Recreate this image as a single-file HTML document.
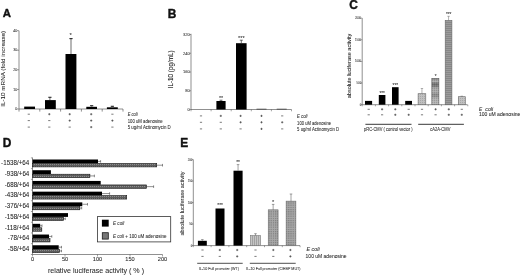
<!DOCTYPE html>
<html><head><meta charset="utf-8"><style>
html,body{margin:0;padding:0;background:#fff;width:520px;height:275px;overflow:hidden}
svg{display:block;filter:grayscale(1)}
text{font-family:"Liberation Sans", sans-serif}
</style></head><body>
<svg width="520" height="275" viewBox="0 0 520 275">
<defs>
<pattern id="pg1" width="2" height="2" patternUnits="userSpaceOnUse"><rect width="2" height="2" fill="#c0c0c0"/><rect width="1" height="1" fill="#a8a8a8"/></pattern>
<pattern id="tex" width="2" height="2" patternUnits="userSpaceOnUse"><rect width="1" height="1" fill="#000" fill-opacity="0.12"/><rect x="1" y="1" width="1" height="1" fill="#fff" fill-opacity="0.12"/></pattern>
<linearGradient id="gb6" x1="0" y1="0" x2="0" y2="1"><stop offset="0" stop-color="#555"/><stop offset="0.05" stop-color="#999"/><stop offset="0.1" stop-color="#b2b2b2"/><stop offset="0.16" stop-color="#8a8a8a"/><stop offset="0.2" stop-color="#707070"/><stop offset="0.29" stop-color="#7a7a7a"/><stop offset="0.36" stop-color="#a6a6a6"/><stop offset="0.52" stop-color="#aaa"/><stop offset="0.6" stop-color="#8e8e8e"/><stop offset="0.68" stop-color="#929292"/><stop offset="0.76" stop-color="#b0b0b0"/><stop offset="1" stop-color="#b4b4b4"/></linearGradient>
<pattern id="pg2" width="2" height="2" patternUnits="userSpaceOnUse"><rect width="2" height="2" fill="#aaa"/><rect width="1" height="1" fill="#888"/></pattern>
<pattern id="pg3" width="2" height="2" patternUnits="userSpaceOnUse"><rect width="2" height="2" fill="#9c9c9c"/><rect width="2" height="0.8" fill="#828282"/></pattern>
<pattern id="pgD" width="2" height="2" patternUnits="userSpaceOnUse"><rect width="2" height="2" fill="#5e5e5e"/><rect width="1" height="1" fill="#8e8e8e"/></pattern>
<pattern id="pgE1" width="2" height="2" patternUnits="userSpaceOnUse"><rect width="2" height="2" fill="#c4c4c4"/><rect width="0.8" height="2" fill="#999"/></pattern>
<pattern id="pgE2" width="2.2" height="2.2" patternUnits="userSpaceOnUse"><rect width="2.2" height="2.2" fill="#a8a8a8"/><rect width="1.2" height="1.2" fill="#7e7e7e"/></pattern>
</defs>
<rect width="520" height="275" fill="#fff"/>
<text x="2.8" y="17.2" font-size="11.4" text-anchor="start" font-weight="bold" font-style="normal" fill="#111" stroke="#111" stroke-width="0.4" stroke-linejoin="round">A</text>
<text x="167.8" y="17.6" font-size="11.9" text-anchor="start" font-weight="bold" font-style="normal" fill="#111" stroke="#111" stroke-width="0.4" stroke-linejoin="round">B</text>
<text x="349.2" y="8.8" font-size="11.9" text-anchor="start" font-weight="bold" font-style="normal" fill="#111" stroke="#111" stroke-width="0.4" stroke-linejoin="round">C</text>
<text x="2.7" y="147.3" font-size="11.9" text-anchor="start" font-weight="bold" font-style="normal" fill="#111" stroke="#111" stroke-width="0.4" stroke-linejoin="round">D</text>
<text x="180.3" y="147.3" font-size="11.9" text-anchor="start" font-weight="bold" font-style="normal" fill="#111" stroke="#111" stroke-width="0.4" stroke-linejoin="round">E</text>
<line x1="19" y1="30.7" x2="19" y2="109" stroke="#444" stroke-width="0.6"/>
<line x1="17" y1="109.0" x2="19" y2="109.0" stroke="#444" stroke-width="0.5"/>
<text x="17.3" y="110.2" font-size="3.6" text-anchor="end" font-weight="normal" font-style="normal" fill="#333" stroke="#333" stroke-width="0.06" stroke-linejoin="round">0</text>
<line x1="17" y1="89.42" x2="19" y2="89.42" stroke="#444" stroke-width="0.5"/>
<text x="17.3" y="90.62" font-size="3.6" text-anchor="end" font-weight="normal" font-style="normal" fill="#333" stroke="#333" stroke-width="0.06" stroke-linejoin="round">10</text>
<line x1="17" y1="69.84" x2="19" y2="69.84" stroke="#444" stroke-width="0.5"/>
<text x="17.3" y="71.04" font-size="3.6" text-anchor="end" font-weight="normal" font-style="normal" fill="#333" stroke="#333" stroke-width="0.06" stroke-linejoin="round">20</text>
<line x1="17" y1="50.260000000000005" x2="19" y2="50.260000000000005" stroke="#444" stroke-width="0.5"/>
<text x="17.3" y="51.46000000000001" font-size="3.6" text-anchor="end" font-weight="normal" font-style="normal" fill="#333" stroke="#333" stroke-width="0.06" stroke-linejoin="round">30</text>
<line x1="17" y1="30.680000000000007" x2="19" y2="30.680000000000007" stroke="#444" stroke-width="0.5"/>
<text x="17.3" y="31.880000000000006" font-size="3.6" text-anchor="end" font-weight="normal" font-style="normal" fill="#333" stroke="#333" stroke-width="0.06" stroke-linejoin="round">40</text>
<line x1="19" y1="109" x2="123" y2="109" stroke="#444" stroke-width="0.6"/>
<line x1="19.0" y1="109" x2="19.0" y2="111.6" stroke="#444" stroke-width="0.6"/>
<line x1="39.8" y1="109" x2="39.8" y2="111.6" stroke="#444" stroke-width="0.6"/>
<line x1="60.6" y1="109" x2="60.6" y2="111.6" stroke="#444" stroke-width="0.6"/>
<line x1="81.4" y1="109" x2="81.4" y2="111.6" stroke="#444" stroke-width="0.6"/>
<line x1="102.2" y1="109" x2="102.2" y2="111.6" stroke="#444" stroke-width="0.6"/>
<line x1="123.0" y1="109" x2="123.0" y2="111.6" stroke="#444" stroke-width="0.6"/>
<rect x="24.2" y="106.6" width="10.8" height="2.4000000000000057" fill="#000" stroke="none" stroke-width="0.5"/>
<rect x="45.0" y="100.1" width="10.799999999999997" height="8.900000000000006" fill="#000" stroke="none" stroke-width="0.5"/>
<line x1="49.9" y1="100.1" x2="49.9" y2="97.3" stroke="#7a7a7a" stroke-width="1.1"/>
<line x1="48.3" y1="97.3" x2="51.5" y2="97.3" stroke="#2a2a2a" stroke-width="1.1"/>
<rect x="65.5" y="54" width="10.900000000000006" height="55" fill="#000" stroke="none" stroke-width="0.5"/>
<line x1="71.0" y1="54" x2="71.0" y2="38.6" stroke="#7a7a7a" stroke-width="1.1"/>
<line x1="69.4" y1="38.6" x2="72.6" y2="38.6" stroke="#2a2a2a" stroke-width="1.1"/>
<rect x="86.3" y="106.8" width="10.700000000000003" height="2.200000000000003" fill="#000" stroke="none" stroke-width="0.5"/>
<line x1="91.65" y1="106.8" x2="91.65" y2="105.7" stroke="#7a7a7a" stroke-width="1.1"/>
<line x1="90.05000000000001" y1="105.7" x2="93.25" y2="105.7" stroke="#2a2a2a" stroke-width="1.1"/>
<rect x="106.9" y="107.3" width="10.899999999999991" height="1.7000000000000028" fill="#000" stroke="none" stroke-width="0.5"/>
<line x1="112.35" y1="107.3" x2="112.35" y2="106.3" stroke="#7a7a7a" stroke-width="1.1"/>
<line x1="110.75" y1="106.3" x2="113.94999999999999" y2="106.3" stroke="#2a2a2a" stroke-width="1.1"/>
<text x="70.7" y="37.2" font-size="6" text-anchor="middle" font-weight="normal" font-style="normal" fill="#2a2a2a" stroke="#2a2a2a" stroke-width="0.06" stroke-linejoin="round">*</text>
<line x1="27.7" y1="114.2" x2="29.900000000000002" y2="114.2" stroke="#333" stroke-width="0.65"/>
<line x1="48.199999999999996" y1="114.2" x2="50.4" y2="114.2" stroke="#333" stroke-width="0.65"/>
<line x1="49.3" y1="113.10000000000001" x2="49.3" y2="115.3" stroke="#333" stroke-width="0.65"/>
<line x1="68.60000000000001" y1="114.2" x2="70.8" y2="114.2" stroke="#333" stroke-width="0.65"/>
<line x1="69.7" y1="113.10000000000001" x2="69.7" y2="115.3" stroke="#333" stroke-width="0.65"/>
<line x1="90.10000000000001" y1="114.2" x2="92.3" y2="114.2" stroke="#333" stroke-width="0.65"/>
<line x1="91.2" y1="113.10000000000001" x2="91.2" y2="115.3" stroke="#333" stroke-width="0.65"/>
<line x1="111.30000000000001" y1="114.2" x2="113.5" y2="114.2" stroke="#333" stroke-width="0.65"/>
<line x1="27.7" y1="120.6" x2="29.900000000000002" y2="120.6" stroke="#333" stroke-width="0.65"/>
<line x1="48.199999999999996" y1="120.6" x2="50.4" y2="120.6" stroke="#333" stroke-width="0.65"/>
<line x1="68.60000000000001" y1="120.6" x2="70.8" y2="120.6" stroke="#333" stroke-width="0.65"/>
<line x1="69.7" y1="119.5" x2="69.7" y2="121.69999999999999" stroke="#333" stroke-width="0.65"/>
<line x1="90.10000000000001" y1="120.6" x2="92.3" y2="120.6" stroke="#333" stroke-width="0.65"/>
<line x1="91.2" y1="119.5" x2="91.2" y2="121.69999999999999" stroke="#333" stroke-width="0.65"/>
<line x1="111.30000000000001" y1="120.6" x2="113.5" y2="120.6" stroke="#333" stroke-width="0.65"/>
<line x1="112.4" y1="119.5" x2="112.4" y2="121.69999999999999" stroke="#333" stroke-width="0.65"/>
<line x1="27.7" y1="127.1" x2="29.900000000000002" y2="127.1" stroke="#333" stroke-width="0.65"/>
<line x1="48.199999999999996" y1="127.1" x2="50.4" y2="127.1" stroke="#333" stroke-width="0.65"/>
<line x1="68.60000000000001" y1="127.1" x2="70.8" y2="127.1" stroke="#333" stroke-width="0.65"/>
<line x1="90.10000000000001" y1="127.1" x2="92.3" y2="127.1" stroke="#333" stroke-width="0.65"/>
<line x1="91.2" y1="126.0" x2="91.2" y2="128.2" stroke="#333" stroke-width="0.65"/>
<line x1="111.30000000000001" y1="127.1" x2="113.5" y2="127.1" stroke="#333" stroke-width="0.65"/>
<text x="127.7" y="116.3" font-size="4.6" text-anchor="start" font-weight="normal" font-style="normal" fill="#2a2a2a" stroke="#2a2a2a" stroke-width="0.06" stroke-linejoin="round" textLength="10" lengthAdjust="spacingAndGlyphs"><tspan font-style="italic">E coli</tspan></text>
<text x="127.7" y="122.9" font-size="4.6" text-anchor="start" font-weight="normal" font-style="normal" fill="#2a2a2a" stroke="#2a2a2a" stroke-width="0.06" stroke-linejoin="round" textLength="35" lengthAdjust="spacingAndGlyphs">100 uM adenosine</text>
<text x="127.7" y="129.2" font-size="4.6" text-anchor="start" font-weight="normal" font-style="normal" fill="#2a2a2a" stroke="#2a2a2a" stroke-width="0.06" stroke-linejoin="round" textLength="43" lengthAdjust="spacingAndGlyphs">5 ug/ml Actinomycin D</text>
<text x="4.8" y="68.8" font-size="5.9" text-anchor="middle" font-weight="normal" font-style="normal" fill="#222" stroke="#222" stroke-width="0.06" stroke-linejoin="round" transform="rotate(-90 4.8 68.8)" textLength="76" lengthAdjust="spacingAndGlyphs">IL-10 mRNA (fold increase)</text>
<line x1="191" y1="33.8" x2="191" y2="109.5" stroke="#444" stroke-width="0.6"/>
<line x1="189.4" y1="109.5" x2="191" y2="109.5" stroke="#444" stroke-width="0.5"/>
<text x="189.8" y="110.9" font-size="4.0" text-anchor="end" font-weight="normal" font-style="normal" fill="#333" stroke="#333" stroke-width="0.06" stroke-linejoin="round">0</text>
<line x1="189.4" y1="90.75" x2="191" y2="90.75" stroke="#444" stroke-width="0.5"/>
<text x="189.8" y="92.15" font-size="4.0" text-anchor="end" font-weight="normal" font-style="normal" fill="#333" stroke="#333" stroke-width="0.06" stroke-linejoin="round">80</text>
<line x1="189.4" y1="72.0" x2="191" y2="72.0" stroke="#444" stroke-width="0.5"/>
<text x="189.8" y="73.4" font-size="4.0" text-anchor="end" font-weight="normal" font-style="normal" fill="#333" stroke="#333" stroke-width="0.06" stroke-linejoin="round">160</text>
<line x1="189.4" y1="53.25" x2="191" y2="53.25" stroke="#444" stroke-width="0.5"/>
<text x="189.8" y="54.65" font-size="4.0" text-anchor="end" font-weight="normal" font-style="normal" fill="#333" stroke="#333" stroke-width="0.06" stroke-linejoin="round">240</text>
<line x1="189.4" y1="34.5" x2="191" y2="34.5" stroke="#444" stroke-width="0.5"/>
<text x="189.8" y="35.9" font-size="4.0" text-anchor="end" font-weight="normal" font-style="normal" fill="#333" stroke="#333" stroke-width="0.06" stroke-linejoin="round">320</text>
<line x1="191" y1="109.5" x2="291.5" y2="109.5" stroke="#444" stroke-width="0.6"/>
<line x1="191.0" y1="109.5" x2="191.0" y2="111.3" stroke="#444" stroke-width="0.5"/>
<line x1="211.1" y1="109.5" x2="211.1" y2="111.3" stroke="#444" stroke-width="0.5"/>
<line x1="231.2" y1="109.5" x2="231.2" y2="111.3" stroke="#444" stroke-width="0.5"/>
<line x1="251.3" y1="109.5" x2="251.3" y2="111.3" stroke="#444" stroke-width="0.5"/>
<line x1="271.4" y1="109.5" x2="271.4" y2="111.3" stroke="#444" stroke-width="0.5"/>
<line x1="291.5" y1="109.5" x2="291.5" y2="111.3" stroke="#444" stroke-width="0.5"/>
<rect x="216.4" y="101" width="9.2" height="8.5" fill="#000" stroke="none" stroke-width="0.5"/>
<line x1="221" y1="101" x2="221" y2="100.2" stroke="#333" stroke-width="0.7"/>
<line x1="219.5" y1="100.2" x2="222.5" y2="100.2" stroke="#333" stroke-width="0.7"/>
<text x="221" y="100.2" font-size="5.4" text-anchor="middle" font-weight="normal" font-style="normal" fill="#2a2a2a" stroke="#2a2a2a" stroke-width="0.06" stroke-linejoin="round">**</text>
<rect x="236" y="43.2" width="10.6" height="66.3" fill="#000" stroke="none" stroke-width="0.5"/>
<line x1="241.3" y1="43.3" x2="241.3" y2="40.2" stroke="#333" stroke-width="0.7"/>
<line x1="239.8" y1="40.2" x2="242.8" y2="40.2" stroke="#333" stroke-width="0.7"/>
<text x="241.3" y="39.9" font-size="5.4" text-anchor="middle" font-weight="normal" font-style="normal" fill="#2a2a2a" stroke="#2a2a2a" stroke-width="0.06" stroke-linejoin="round" textLength="6.6" lengthAdjust="spacingAndGlyphs">***</text>
<rect x="256.5" y="108.8" width="10" height="0.5" fill="#000" stroke="none" stroke-width="0.5"/>
<rect x="276.7" y="108.8" width="10" height="0.5" fill="#000" stroke="none" stroke-width="0.5"/>
<line x1="199.9" y1="115.9" x2="202.1" y2="115.9" stroke="#333" stroke-width="0.65"/>
<line x1="219.70000000000002" y1="115.9" x2="221.9" y2="115.9" stroke="#333" stroke-width="0.65"/>
<line x1="220.8" y1="114.80000000000001" x2="220.8" y2="117.0" stroke="#333" stroke-width="0.65"/>
<line x1="239.5" y1="115.9" x2="241.7" y2="115.9" stroke="#333" stroke-width="0.65"/>
<line x1="240.6" y1="114.80000000000001" x2="240.6" y2="117.0" stroke="#333" stroke-width="0.65"/>
<line x1="260.4" y1="115.9" x2="262.6" y2="115.9" stroke="#333" stroke-width="0.65"/>
<line x1="261.5" y1="114.80000000000001" x2="261.5" y2="117.0" stroke="#333" stroke-width="0.65"/>
<line x1="281.09999999999997" y1="115.9" x2="283.3" y2="115.9" stroke="#333" stroke-width="0.65"/>
<line x1="199.9" y1="122.3" x2="202.1" y2="122.3" stroke="#333" stroke-width="0.65"/>
<line x1="219.70000000000002" y1="122.3" x2="221.9" y2="122.3" stroke="#333" stroke-width="0.65"/>
<line x1="239.5" y1="122.3" x2="241.7" y2="122.3" stroke="#333" stroke-width="0.65"/>
<line x1="240.6" y1="121.2" x2="240.6" y2="123.39999999999999" stroke="#333" stroke-width="0.65"/>
<line x1="260.4" y1="122.3" x2="262.6" y2="122.3" stroke="#333" stroke-width="0.65"/>
<line x1="261.5" y1="121.2" x2="261.5" y2="123.39999999999999" stroke="#333" stroke-width="0.65"/>
<line x1="281.09999999999997" y1="122.3" x2="283.3" y2="122.3" stroke="#333" stroke-width="0.65"/>
<line x1="282.2" y1="121.2" x2="282.2" y2="123.39999999999999" stroke="#333" stroke-width="0.65"/>
<line x1="199.9" y1="128.9" x2="202.1" y2="128.9" stroke="#333" stroke-width="0.65"/>
<line x1="219.70000000000002" y1="128.9" x2="221.9" y2="128.9" stroke="#333" stroke-width="0.65"/>
<line x1="239.5" y1="128.9" x2="241.7" y2="128.9" stroke="#333" stroke-width="0.65"/>
<line x1="260.4" y1="128.9" x2="262.6" y2="128.9" stroke="#333" stroke-width="0.65"/>
<line x1="261.5" y1="127.80000000000001" x2="261.5" y2="130.0" stroke="#333" stroke-width="0.65"/>
<line x1="281.09999999999997" y1="128.9" x2="283.3" y2="128.9" stroke="#333" stroke-width="0.65"/>
<text x="297.1" y="117.8" font-size="4.6" text-anchor="start" font-weight="normal" font-style="normal" fill="#2a2a2a" stroke="#2a2a2a" stroke-width="0.06" stroke-linejoin="round" textLength="10.4" lengthAdjust="spacingAndGlyphs"><tspan font-style="italic">E coli</tspan></text>
<text x="297.1" y="124.5" font-size="4.6" text-anchor="start" font-weight="normal" font-style="normal" fill="#2a2a2a" stroke="#2a2a2a" stroke-width="0.06" stroke-linejoin="round" textLength="34" lengthAdjust="spacingAndGlyphs">100 uM adenosine</text>
<text x="297.1" y="130.8" font-size="4.6" text-anchor="start" font-weight="normal" font-style="normal" fill="#2a2a2a" stroke="#2a2a2a" stroke-width="0.06" stroke-linejoin="round" textLength="42" lengthAdjust="spacingAndGlyphs">5 ug/ml Actinomycin D</text>
<text x="172.9" y="69.4" font-size="6.5" text-anchor="middle" font-weight="normal" font-style="normal" fill="#2a2a2a" stroke="#2a2a2a" stroke-width="0.1" stroke-linejoin="round" transform="rotate(-90 172.9 69.4)" textLength="37.8" lengthAdjust="spacingAndGlyphs">IL-10 (pg/mL)</text>
<line x1="362.2" y1="18.1" x2="362.2" y2="104.7" stroke="#444" stroke-width="0.6"/>
<line x1="360.4" y1="104.7" x2="362.2" y2="104.7" stroke="#444" stroke-width="0.5"/>
<text x="361.2" y="105.7" font-size="2.8" text-anchor="end" font-weight="normal" font-style="normal" fill="#444" stroke="#444" stroke-width="0.06" stroke-linejoin="round">0</text>
<line x1="360.4" y1="83.05000000000001" x2="362.2" y2="83.05000000000001" stroke="#444" stroke-width="0.5"/>
<text x="361.2" y="84.05000000000001" font-size="2.8" text-anchor="end" font-weight="normal" font-style="normal" fill="#444" stroke="#444" stroke-width="0.06" stroke-linejoin="round">500</text>
<line x1="360.4" y1="61.400000000000006" x2="362.2" y2="61.400000000000006" stroke="#444" stroke-width="0.5"/>
<text x="361.2" y="62.400000000000006" font-size="2.8" text-anchor="end" font-weight="normal" font-style="normal" fill="#444" stroke="#444" stroke-width="0.06" stroke-linejoin="round">1000</text>
<line x1="360.4" y1="39.750000000000014" x2="362.2" y2="39.750000000000014" stroke="#444" stroke-width="0.5"/>
<text x="361.2" y="40.750000000000014" font-size="2.8" text-anchor="end" font-weight="normal" font-style="normal" fill="#444" stroke="#444" stroke-width="0.06" stroke-linejoin="round">1500</text>
<line x1="360.4" y1="18.10000000000001" x2="362.2" y2="18.10000000000001" stroke="#444" stroke-width="0.5"/>
<text x="361.2" y="19.10000000000001" font-size="2.8" text-anchor="end" font-weight="normal" font-style="normal" fill="#444" stroke="#444" stroke-width="0.06" stroke-linejoin="round">2000</text>
<line x1="362.2" y1="104.7" x2="467.5" y2="104.7" stroke="#444" stroke-width="0.6"/>
<line x1="362.2" y1="104.7" x2="362.2" y2="106.3" stroke="#444" stroke-width="0.5"/>
<line x1="375.4" y1="104.7" x2="375.4" y2="106.3" stroke="#444" stroke-width="0.5"/>
<line x1="388.59999999999997" y1="104.7" x2="388.59999999999997" y2="106.3" stroke="#444" stroke-width="0.5"/>
<line x1="401.79999999999995" y1="104.7" x2="401.79999999999995" y2="106.3" stroke="#444" stroke-width="0.5"/>
<line x1="415.0" y1="104.7" x2="415.0" y2="106.3" stroke="#444" stroke-width="0.5"/>
<line x1="428.2" y1="104.7" x2="428.2" y2="106.3" stroke="#444" stroke-width="0.5"/>
<line x1="441.4" y1="104.7" x2="441.4" y2="106.3" stroke="#444" stroke-width="0.5"/>
<line x1="454.59999999999997" y1="104.7" x2="454.59999999999997" y2="106.3" stroke="#444" stroke-width="0.5"/>
<line x1="467.79999999999995" y1="104.7" x2="467.79999999999995" y2="106.3" stroke="#444" stroke-width="0.5"/>
<rect x="365.0" y="100.9" width="7.100000000000023" height="3.799999999999997" fill="#000" stroke="none" stroke-width="0.5"/>
<rect x="378.8" y="95" width="6.599999999999966" height="9.700000000000003" fill="#000" stroke="none" stroke-width="0.5"/>
<rect x="392" y="87.2" width="6.600000000000023" height="17.5" fill="#000" stroke="none" stroke-width="0.5"/>
<rect x="405.2" y="100.9" width="6.800000000000011" height="3.799999999999997" fill="#000" stroke="none" stroke-width="0.5"/>
<rect x="418.1" y="93.7" width="7.699999999999989" height="11.0" fill="url(#pg1)" stroke="#666" stroke-width="0.6"/>
<line x1="421.95000000000005" y1="93.7" x2="421.95000000000005" y2="88.5" stroke="#666" stroke-width="0.5"/>
<line x1="420.75000000000006" y1="88.5" x2="423.15000000000003" y2="88.5" stroke="#666" stroke-width="0.5"/>
<rect x="431.8" y="78.5" width="7.099999999999966" height="26.200000000000003" fill="url(#gb6)" stroke="#666" stroke-width="0.6"/>
<rect x="431.8" y="78.5" width="7.099999999999966" height="26.200000000000003" fill="url(#tex)" stroke="none" stroke-width="0.5"/>
<rect x="445.2" y="20.5" width="6.699999999999989" height="84.2" fill="url(#pg3)" stroke="#666" stroke-width="0.6"/>
<line x1="448.54999999999995" y1="20.5" x2="448.54999999999995" y2="16.3" stroke="#666" stroke-width="0.5"/>
<line x1="447.34999999999997" y1="16.3" x2="449.74999999999994" y2="16.3" stroke="#666" stroke-width="0.5"/>
<rect x="458.3" y="96.7" width="7.0" height="8.0" fill="url(#pg1)" stroke="#666" stroke-width="0.6"/>
<line x1="461.8" y1="96.7" x2="461.8" y2="96.2" stroke="#666" stroke-width="0.5"/>
<line x1="460.6" y1="96.2" x2="463.0" y2="96.2" stroke="#666" stroke-width="0.5"/>
<text x="382.1" y="95" font-size="4.6" text-anchor="middle" font-weight="normal" font-style="normal" fill="#2a2a2a" stroke="#2a2a2a" stroke-width="0.06" stroke-linejoin="round" textLength="5.4" lengthAdjust="spacingAndGlyphs">***</text>
<text x="395.3" y="87" font-size="4.6" text-anchor="middle" font-weight="normal" font-style="normal" fill="#2a2a2a" stroke="#2a2a2a" stroke-width="0.06" stroke-linejoin="round" textLength="5.4" lengthAdjust="spacingAndGlyphs">***</text>
<text x="435.6" y="77.6" font-size="4.6" text-anchor="middle" font-weight="normal" font-style="normal" fill="#2a2a2a" stroke="#2a2a2a" stroke-width="0.06" stroke-linejoin="round">*</text>
<text x="448.6" y="16.0" font-size="4.6" text-anchor="middle" font-weight="normal" font-style="normal" fill="#2a2a2a" stroke="#2a2a2a" stroke-width="0.06" stroke-linejoin="round" textLength="5.4" lengthAdjust="spacingAndGlyphs">***</text>
<line x1="367.59999999999997" y1="109.3" x2="369.8" y2="109.3" stroke="#333" stroke-width="0.65"/>
<line x1="381.0" y1="109.3" x2="383.20000000000005" y2="109.3" stroke="#333" stroke-width="0.65"/>
<line x1="382.1" y1="108.2" x2="382.1" y2="110.39999999999999" stroke="#333" stroke-width="0.65"/>
<line x1="394.2" y1="109.3" x2="396.40000000000003" y2="109.3" stroke="#333" stroke-width="0.65"/>
<line x1="395.3" y1="108.2" x2="395.3" y2="110.39999999999999" stroke="#333" stroke-width="0.65"/>
<line x1="407.59999999999997" y1="109.3" x2="409.8" y2="109.3" stroke="#333" stroke-width="0.65"/>
<line x1="420.9" y1="109.3" x2="423.1" y2="109.3" stroke="#333" stroke-width="0.65"/>
<line x1="434.5" y1="109.3" x2="436.70000000000005" y2="109.3" stroke="#333" stroke-width="0.65"/>
<line x1="435.6" y1="108.2" x2="435.6" y2="110.39999999999999" stroke="#333" stroke-width="0.65"/>
<line x1="447.7" y1="109.3" x2="449.90000000000003" y2="109.3" stroke="#333" stroke-width="0.65"/>
<line x1="448.8" y1="108.2" x2="448.8" y2="110.39999999999999" stroke="#333" stroke-width="0.65"/>
<line x1="460.7" y1="109.3" x2="462.90000000000003" y2="109.3" stroke="#333" stroke-width="0.65"/>
<line x1="367.59999999999997" y1="114.8" x2="369.8" y2="114.8" stroke="#333" stroke-width="0.65"/>
<line x1="381.0" y1="114.8" x2="383.20000000000005" y2="114.8" stroke="#333" stroke-width="0.65"/>
<line x1="394.2" y1="114.8" x2="396.40000000000003" y2="114.8" stroke="#333" stroke-width="0.65"/>
<line x1="395.3" y1="113.7" x2="395.3" y2="115.89999999999999" stroke="#333" stroke-width="0.65"/>
<line x1="407.59999999999997" y1="114.8" x2="409.8" y2="114.8" stroke="#333" stroke-width="0.65"/>
<line x1="408.7" y1="113.7" x2="408.7" y2="115.89999999999999" stroke="#333" stroke-width="0.65"/>
<line x1="420.9" y1="114.8" x2="423.1" y2="114.8" stroke="#333" stroke-width="0.65"/>
<line x1="434.5" y1="114.8" x2="436.70000000000005" y2="114.8" stroke="#333" stroke-width="0.65"/>
<line x1="447.7" y1="114.8" x2="449.90000000000003" y2="114.8" stroke="#333" stroke-width="0.65"/>
<line x1="448.8" y1="113.7" x2="448.8" y2="115.89999999999999" stroke="#333" stroke-width="0.65"/>
<line x1="460.7" y1="114.8" x2="462.90000000000003" y2="114.8" stroke="#333" stroke-width="0.65"/>
<line x1="461.8" y1="113.7" x2="461.8" y2="115.89999999999999" stroke="#333" stroke-width="0.65"/>
<text x="478.9" y="110.8" font-size="4.8" text-anchor="start" font-weight="normal" font-style="normal" fill="#2a2a2a" stroke="#2a2a2a" stroke-width="0.06" stroke-linejoin="round"><tspan font-style="italic">E</tspan></text>
<text x="485.3" y="110.8" font-size="4.8" text-anchor="start" font-weight="normal" font-style="normal" fill="#2a2a2a" stroke="#2a2a2a" stroke-width="0.06" stroke-linejoin="round" textLength="7.8" lengthAdjust="spacingAndGlyphs"><tspan font-style="italic">coli</tspan></text>
<text x="478.9" y="116.1" font-size="4.9" text-anchor="start" font-weight="normal" font-style="normal" fill="#2a2a2a" stroke="#2a2a2a" stroke-width="0.06" stroke-linejoin="round" textLength="41.5" lengthAdjust="spacingAndGlyphs">100 uM adenosine</text>
<line x1="365.4" y1="124.3" x2="411.5" y2="124.3" stroke="#222" stroke-width="0.9"/>
<line x1="418.2" y1="124.3" x2="463.9" y2="124.3" stroke="#222" stroke-width="0.9"/>
<text x="388.3" y="131.2" font-size="4.5" text-anchor="middle" font-weight="normal" font-style="normal" fill="#2a2a2a" stroke="#2a2a2a" stroke-width="0.06" stroke-linejoin="round" textLength="48.5" lengthAdjust="spacingAndGlyphs">pRC-CMV ( control vector )</text>
<text x="440.35" y="131.1" font-size="4.5" text-anchor="middle" font-weight="normal" font-style="normal" fill="#2a2a2a" stroke="#2a2a2a" stroke-width="0.06" stroke-linejoin="round" textLength="20" lengthAdjust="spacingAndGlyphs">cA2A-CMV</text>
<text x="350.6" y="66" font-size="5.2" text-anchor="middle" font-weight="normal" font-style="normal" fill="#2a2a2a" stroke="#2a2a2a" stroke-width="0.06" stroke-linejoin="round" transform="rotate(-90 350.6 66)" textLength="64.5" lengthAdjust="spacingAndGlyphs">absolute luciferase activity</text>
<line x1="32.5" y1="157.6" x2="32.5" y2="254.5" stroke="#444" stroke-width="0.6"/>
<line x1="32.5" y1="254.5" x2="162.5" y2="254.5" stroke="#444" stroke-width="0.6"/>
<line x1="32.5" y1="254.5" x2="32.5" y2="256.5" stroke="#444" stroke-width="0.5"/>
<text x="32.5" y="261" font-size="5.6" text-anchor="middle" font-weight="normal" font-style="normal" fill="#222" stroke="#222" stroke-width="0.06" stroke-linejoin="round">0</text>
<line x1="65.0" y1="254.5" x2="65.0" y2="256.5" stroke="#444" stroke-width="0.5"/>
<text x="65.0" y="261" font-size="5.6" text-anchor="middle" font-weight="normal" font-style="normal" fill="#222" stroke="#222" stroke-width="0.06" stroke-linejoin="round">50</text>
<line x1="97.5" y1="254.5" x2="97.5" y2="256.5" stroke="#444" stroke-width="0.5"/>
<text x="97.5" y="261" font-size="5.6" text-anchor="middle" font-weight="normal" font-style="normal" fill="#222" stroke="#222" stroke-width="0.06" stroke-linejoin="round">100</text>
<line x1="130.0" y1="254.5" x2="130.0" y2="256.5" stroke="#444" stroke-width="0.5"/>
<text x="130.0" y="261" font-size="5.6" text-anchor="middle" font-weight="normal" font-style="normal" fill="#222" stroke="#222" stroke-width="0.06" stroke-linejoin="round">150</text>
<line x1="162.5" y1="254.5" x2="162.5" y2="256.5" stroke="#444" stroke-width="0.5"/>
<text x="162.5" y="261" font-size="5.6" text-anchor="middle" font-weight="normal" font-style="normal" fill="#222" stroke="#222" stroke-width="0.06" stroke-linejoin="round">200</text>
<rect x="32.5" y="159.5" width="65.5" height="3.8" fill="#000" stroke="none" stroke-width="0.5"/>
<rect x="32.5" y="163.5" width="124.19999999999999" height="3.4" fill="url(#pgD)" stroke="#111" stroke-width="0.6"/>
<line x1="98.0" y1="161.4" x2="98.0" y2="161.4" stroke="#333" stroke-width="0.7"/>
<line x1="98.0" y1="161.4" x2="98.0" y2="161.4" stroke="#333" stroke-width="0.7"/>
<line x1="98.0" y1="161.4" x2="100.6" y2="161.4" stroke="#222" stroke-width="0.5"/>
<line x1="100.6" y1="160.1" x2="100.6" y2="162.7" stroke="#222" stroke-width="0.5"/>
<line x1="156.7" y1="165.2" x2="162.5" y2="165.2" stroke="#222" stroke-width="0.5"/>
<line x1="162.5" y1="163.9" x2="162.5" y2="166.5" stroke="#222" stroke-width="0.5"/>
<text x="29.3" y="165.25" font-size="6.4" text-anchor="end" font-weight="normal" font-style="normal" fill="#222" stroke="#222" stroke-width="0.06" stroke-linejoin="round" textLength="28.2" lengthAdjust="spacingAndGlyphs">-1538/+64</text>
<line x1="30.9" y1="157.9" x2="32.5" y2="157.9" stroke="#444" stroke-width="0.5"/>
<rect x="32.5" y="170.22" width="18.4" height="3.8" fill="#000" stroke="none" stroke-width="0.5"/>
<rect x="32.5" y="174.22" width="57.400000000000006" height="3.4" fill="url(#pgD)" stroke="#111" stroke-width="0.6"/>
<line x1="89.9" y1="175.92" x2="94.4" y2="175.92" stroke="#222" stroke-width="0.5"/>
<line x1="94.4" y1="174.62" x2="94.4" y2="177.22" stroke="#222" stroke-width="0.5"/>
<text x="29.3" y="175.97" font-size="6.4" text-anchor="end" font-weight="normal" font-style="normal" fill="#222" stroke="#222" stroke-width="0.06" stroke-linejoin="round" textLength="24.6" lengthAdjust="spacingAndGlyphs">-938/+64</text>
<line x1="30.9" y1="168.62" x2="32.5" y2="168.62" stroke="#444" stroke-width="0.5"/>
<rect x="32.5" y="180.94" width="68.2" height="3.8" fill="#000" stroke="none" stroke-width="0.5"/>
<rect x="32.5" y="184.94" width="114.0" height="3.4" fill="url(#pgD)" stroke="#111" stroke-width="0.6"/>
<line x1="146.5" y1="186.64" x2="153.6" y2="186.64" stroke="#222" stroke-width="0.5"/>
<line x1="153.6" y1="185.34" x2="153.6" y2="187.94" stroke="#222" stroke-width="0.5"/>
<text x="29.3" y="186.69" font-size="6.4" text-anchor="end" font-weight="normal" font-style="normal" fill="#222" stroke="#222" stroke-width="0.06" stroke-linejoin="round" textLength="24.6" lengthAdjust="spacingAndGlyphs">-688/+64</text>
<line x1="30.9" y1="179.34" x2="32.5" y2="179.34" stroke="#444" stroke-width="0.5"/>
<rect x="32.5" y="191.66" width="69.5" height="3.8" fill="#000" stroke="none" stroke-width="0.5"/>
<rect x="32.5" y="195.66" width="94.2" height="3.4" fill="url(#pgD)" stroke="#111" stroke-width="0.6"/>
<line x1="102" y1="193.56" x2="102" y2="193.56" stroke="#333" stroke-width="0.7"/>
<line x1="102" y1="193.56" x2="102" y2="193.56" stroke="#333" stroke-width="0.7"/>
<line x1="102" y1="193.56" x2="109.6" y2="193.56" stroke="#222" stroke-width="0.5"/>
<line x1="109.6" y1="192.26" x2="109.6" y2="194.85999999999999" stroke="#222" stroke-width="0.5"/>
<text x="29.3" y="197.41" font-size="6.4" text-anchor="end" font-weight="normal" font-style="normal" fill="#222" stroke="#222" stroke-width="0.06" stroke-linejoin="round" textLength="24.6" lengthAdjust="spacingAndGlyphs">-438/+64</text>
<line x1="30.9" y1="190.06" x2="32.5" y2="190.06" stroke="#444" stroke-width="0.5"/>
<rect x="32.5" y="202.38" width="49.8" height="3.8" fill="#000" stroke="none" stroke-width="0.5"/>
<rect x="32.5" y="206.38" width="47.3" height="3.4" fill="url(#pgD)" stroke="#111" stroke-width="0.6"/>
<line x1="82.3" y1="204.28" x2="82.3" y2="204.28" stroke="#333" stroke-width="0.7"/>
<line x1="82.3" y1="204.28" x2="82.3" y2="204.28" stroke="#333" stroke-width="0.7"/>
<line x1="82.3" y1="204.28" x2="87.5" y2="204.28" stroke="#222" stroke-width="0.5"/>
<line x1="87.5" y1="202.98" x2="87.5" y2="205.57999999999998" stroke="#222" stroke-width="0.5"/>
<line x1="79.8" y1="208.07999999999998" x2="81.7" y2="208.07999999999998" stroke="#222" stroke-width="0.5"/>
<line x1="81.7" y1="206.78" x2="81.7" y2="209.38" stroke="#222" stroke-width="0.5"/>
<text x="29.3" y="208.13" font-size="6.4" text-anchor="end" font-weight="normal" font-style="normal" fill="#222" stroke="#222" stroke-width="0.06" stroke-linejoin="round" textLength="24.6" lengthAdjust="spacingAndGlyphs">-376/+64</text>
<line x1="30.9" y1="200.78" x2="32.5" y2="200.78" stroke="#444" stroke-width="0.5"/>
<rect x="32.5" y="213.1" width="35.5" height="3.8" fill="#000" stroke="none" stroke-width="0.5"/>
<rect x="32.5" y="217.1" width="31.1" height="3.4" fill="url(#pgD)" stroke="#111" stroke-width="0.6"/>
<line x1="63.6" y1="218.79999999999998" x2="65.3" y2="218.79999999999998" stroke="#222" stroke-width="0.5"/>
<line x1="65.3" y1="217.5" x2="65.3" y2="220.1" stroke="#222" stroke-width="0.5"/>
<text x="29.3" y="218.85" font-size="6.4" text-anchor="end" font-weight="normal" font-style="normal" fill="#222" stroke="#222" stroke-width="0.06" stroke-linejoin="round" textLength="24.6" lengthAdjust="spacingAndGlyphs">-158/+64</text>
<line x1="30.9" y1="211.5" x2="32.5" y2="211.5" stroke="#444" stroke-width="0.5"/>
<rect x="32.5" y="223.82" width="7.700000000000003" height="3.8" fill="#000" stroke="none" stroke-width="0.5"/>
<rect x="32.5" y="227.82" width="9.299999999999997" height="3.4" fill="url(#pgD)" stroke="#111" stroke-width="0.6"/>
<line x1="40.2" y1="225.72" x2="40.2" y2="225.72" stroke="#333" stroke-width="0.7"/>
<line x1="40.2" y1="225.72" x2="40.2" y2="225.72" stroke="#333" stroke-width="0.7"/>
<line x1="40.2" y1="225.72" x2="42.0" y2="225.72" stroke="#222" stroke-width="0.5"/>
<line x1="42.0" y1="224.42" x2="42.0" y2="227.01999999999998" stroke="#222" stroke-width="0.5"/>
<text x="29.3" y="229.57" font-size="6.4" text-anchor="end" font-weight="normal" font-style="normal" fill="#222" stroke="#222" stroke-width="0.06" stroke-linejoin="round" textLength="24.6" lengthAdjust="spacingAndGlyphs">-118/+64</text>
<line x1="30.9" y1="222.22" x2="32.5" y2="222.22" stroke="#444" stroke-width="0.5"/>
<rect x="32.5" y="234.54000000000002" width="16.5" height="3.8" fill="#000" stroke="none" stroke-width="0.5"/>
<rect x="32.5" y="238.54000000000002" width="17.5" height="3.4" fill="url(#pgD)" stroke="#111" stroke-width="0.6"/>
<line x1="49" y1="236.44000000000003" x2="49" y2="236.44000000000003" stroke="#333" stroke-width="0.7"/>
<line x1="49" y1="236.44000000000003" x2="49" y2="236.44000000000003" stroke="#333" stroke-width="0.7"/>
<line x1="49" y1="236.44000000000003" x2="51.8" y2="236.44000000000003" stroke="#222" stroke-width="0.5"/>
<line x1="51.8" y1="235.14000000000001" x2="51.8" y2="237.74" stroke="#222" stroke-width="0.5"/>
<text x="29.3" y="240.29000000000002" font-size="6.4" text-anchor="end" font-weight="normal" font-style="normal" fill="#222" stroke="#222" stroke-width="0.06" stroke-linejoin="round" textLength="21.5" lengthAdjust="spacingAndGlyphs">-78/+64</text>
<line x1="30.9" y1="232.94000000000003" x2="32.5" y2="232.94000000000003" stroke="#444" stroke-width="0.5"/>
<rect x="32.5" y="245.26" width="26.200000000000003" height="3.8" fill="#000" stroke="none" stroke-width="0.5"/>
<rect x="32.5" y="249.26" width="27.0" height="3.4" fill="url(#pgD)" stroke="#111" stroke-width="0.6"/>
<line x1="58.7" y1="247.16" x2="58.7" y2="247.16" stroke="#333" stroke-width="0.7"/>
<line x1="58.7" y1="247.16" x2="58.7" y2="247.16" stroke="#333" stroke-width="0.7"/>
<line x1="58.7" y1="247.16" x2="61.5" y2="247.16" stroke="#222" stroke-width="0.5"/>
<line x1="61.5" y1="245.85999999999999" x2="61.5" y2="248.45999999999998" stroke="#222" stroke-width="0.5"/>
<line x1="59.5" y1="250.95999999999998" x2="61.5" y2="250.95999999999998" stroke="#222" stroke-width="0.5"/>
<line x1="61.5" y1="249.66" x2="61.5" y2="252.26" stroke="#222" stroke-width="0.5"/>
<text x="29.3" y="251.01" font-size="6.4" text-anchor="end" font-weight="normal" font-style="normal" fill="#222" stroke="#222" stroke-width="0.06" stroke-linejoin="round" textLength="21.5" lengthAdjust="spacingAndGlyphs">-58/+64</text>
<line x1="30.9" y1="243.66" x2="32.5" y2="243.66" stroke="#444" stroke-width="0.5"/>
<line x1="30.9" y1="254.5" x2="32.5" y2="254.5" stroke="#444" stroke-width="0.5"/>
<rect x="97.5" y="216.6" width="73.2" height="25.3" fill="#fff" stroke="#333" stroke-width="0.8"/>
<rect x="101.9" y="219.7" width="6.8" height="6.9" fill="#000" stroke="none" stroke-width="0.5"/>
<rect x="102.3" y="232.7" width="6.0" height="6.4" fill="#777" stroke="#1a1a1a" stroke-width="0.8"/>
<text x="113" y="224.9" font-size="4.6" text-anchor="start" font-weight="normal" font-style="normal" fill="#2a2a2a" stroke="#2a2a2a" stroke-width="0.06" stroke-linejoin="round"><tspan font-style="italic">E coli</tspan></text>
<text x="113" y="238.0" font-size="4.6" text-anchor="start" font-weight="normal" font-style="normal" fill="#2a2a2a" stroke="#2a2a2a" stroke-width="0.06" stroke-linejoin="round" textLength="53.5" lengthAdjust="spacingAndGlyphs"><tspan font-style="italic">E coli</tspan> + 100 uM adenosine</text>
<text x="48" y="273.2" font-size="7.2" text-anchor="start" font-weight="normal" font-style="normal" fill="#2a2a2a" stroke="#2a2a2a" stroke-width="0.06" stroke-linejoin="round" textLength="96" lengthAdjust="spacingAndGlyphs">relative luciferase activity ( % )</text>
<line x1="193.3" y1="159.6" x2="193.3" y2="245.6" stroke="#444" stroke-width="0.6"/>
<line x1="191.5" y1="245.6" x2="193.3" y2="245.6" stroke="#444" stroke-width="0.5"/>
<text x="192.4" y="246.6" font-size="2.8" text-anchor="end" font-weight="normal" font-style="normal" fill="#444" stroke="#444" stroke-width="0.06" stroke-linejoin="round">0</text>
<line x1="191.5" y1="224.1" x2="193.3" y2="224.1" stroke="#444" stroke-width="0.5"/>
<text x="192.4" y="225.1" font-size="2.8" text-anchor="end" font-weight="normal" font-style="normal" fill="#444" stroke="#444" stroke-width="0.06" stroke-linejoin="round">50</text>
<line x1="191.5" y1="202.6" x2="193.3" y2="202.6" stroke="#444" stroke-width="0.5"/>
<text x="192.4" y="203.6" font-size="2.8" text-anchor="end" font-weight="normal" font-style="normal" fill="#444" stroke="#444" stroke-width="0.06" stroke-linejoin="round">100</text>
<line x1="191.5" y1="181.1" x2="193.3" y2="181.1" stroke="#444" stroke-width="0.5"/>
<text x="192.4" y="182.1" font-size="2.8" text-anchor="end" font-weight="normal" font-style="normal" fill="#444" stroke="#444" stroke-width="0.06" stroke-linejoin="round">150</text>
<line x1="191.5" y1="159.6" x2="193.3" y2="159.6" stroke="#444" stroke-width="0.5"/>
<text x="192.4" y="160.6" font-size="2.8" text-anchor="end" font-weight="normal" font-style="normal" fill="#444" stroke="#444" stroke-width="0.06" stroke-linejoin="round">200</text>
<line x1="193.3" y1="245.6" x2="300" y2="245.6" stroke="#444" stroke-width="0.6"/>
<line x1="193.3" y1="245.6" x2="193.3" y2="247.2" stroke="#444" stroke-width="0.5"/>
<line x1="211.10000000000002" y1="245.6" x2="211.10000000000002" y2="247.2" stroke="#444" stroke-width="0.5"/>
<line x1="228.9" y1="245.6" x2="228.9" y2="247.2" stroke="#444" stroke-width="0.5"/>
<line x1="246.70000000000002" y1="245.6" x2="246.70000000000002" y2="247.2" stroke="#444" stroke-width="0.5"/>
<line x1="264.5" y1="245.6" x2="264.5" y2="247.2" stroke="#444" stroke-width="0.5"/>
<line x1="282.3" y1="245.6" x2="282.3" y2="247.2" stroke="#444" stroke-width="0.5"/>
<line x1="300.1" y1="245.6" x2="300.1" y2="247.2" stroke="#444" stroke-width="0.5"/>
<rect x="197.9" y="240.8" width="8.900000000000006" height="4.799999999999983" fill="#000" stroke="none" stroke-width="0.5"/>
<line x1="202.35000000000002" y1="240.8" x2="202.35000000000002" y2="239.6" stroke="#555" stroke-width="0.55"/>
<line x1="201.05" y1="239.6" x2="203.65000000000003" y2="239.6" stroke="#555" stroke-width="0.55"/>
<rect x="215.5" y="208.5" width="9.0" height="37.099999999999994" fill="#000" stroke="none" stroke-width="0.5"/>
<rect x="233.5" y="170.7" width="9.099999999999994" height="74.9" fill="#000" stroke="none" stroke-width="0.5"/>
<line x1="238.05" y1="170.7" x2="238.05" y2="164.6" stroke="#555" stroke-width="0.55"/>
<line x1="236.75" y1="164.6" x2="239.35000000000002" y2="164.6" stroke="#555" stroke-width="0.55"/>
<rect x="250.6" y="235.5" width="9.799999999999983" height="10.099999999999994" fill="url(#pgE1)" stroke="#666" stroke-width="0.5"/>
<line x1="255.5" y1="235.5" x2="255.5" y2="233.7" stroke="#555" stroke-width="0.55"/>
<line x1="254.2" y1="233.7" x2="256.8" y2="233.7" stroke="#555" stroke-width="0.55"/>
<rect x="268.2" y="209.8" width="9.900000000000034" height="35.79999999999998" fill="url(#pgE2)" stroke="#666" stroke-width="0.5"/>
<line x1="273.15" y1="209.8" x2="273.15" y2="204.4" stroke="#555" stroke-width="0.55"/>
<line x1="271.84999999999997" y1="204.4" x2="274.45" y2="204.4" stroke="#555" stroke-width="0.55"/>
<rect x="286.1" y="201.1" width="9.799999999999955" height="44.5" fill="url(#pgE2)" stroke="#666" stroke-width="0.5"/>
<line x1="291.0" y1="201.1" x2="291.0" y2="194" stroke="#555" stroke-width="0.55"/>
<line x1="289.7" y1="194" x2="292.3" y2="194" stroke="#555" stroke-width="0.55"/>
<text x="220.1" y="207.4" font-size="4.8" text-anchor="middle" font-weight="normal" font-style="normal" fill="#2a2a2a" stroke="#2a2a2a" stroke-width="0.06" stroke-linejoin="round" textLength="5.6" lengthAdjust="spacingAndGlyphs">***</text>
<text x="238.05" y="164.3" font-size="4.8" text-anchor="middle" font-weight="normal" font-style="normal" fill="#2a2a2a" stroke="#2a2a2a" stroke-width="0.06" stroke-linejoin="round">**</text>
<text x="273.2" y="203.6" font-size="5.6" text-anchor="middle" font-weight="normal" font-style="normal" fill="#2a2a2a" stroke="#2a2a2a" stroke-width="0.06" stroke-linejoin="round">*</text>
<line x1="201.4" y1="250" x2="203.6" y2="250" stroke="#333" stroke-width="0.65"/>
<line x1="218.70000000000002" y1="250" x2="220.9" y2="250" stroke="#333" stroke-width="0.65"/>
<line x1="219.8" y1="248.9" x2="219.8" y2="251.1" stroke="#333" stroke-width="0.65"/>
<line x1="236.1" y1="250" x2="238.29999999999998" y2="250" stroke="#333" stroke-width="0.65"/>
<line x1="237.2" y1="248.9" x2="237.2" y2="251.1" stroke="#333" stroke-width="0.65"/>
<line x1="254.4" y1="250" x2="256.6" y2="250" stroke="#333" stroke-width="0.65"/>
<line x1="272.2" y1="250" x2="274.40000000000003" y2="250" stroke="#333" stroke-width="0.65"/>
<line x1="273.3" y1="248.9" x2="273.3" y2="251.1" stroke="#333" stroke-width="0.65"/>
<line x1="289.29999999999995" y1="250" x2="291.5" y2="250" stroke="#333" stroke-width="0.65"/>
<line x1="290.4" y1="248.9" x2="290.4" y2="251.1" stroke="#333" stroke-width="0.65"/>
<line x1="201.4" y1="256.4" x2="203.6" y2="256.4" stroke="#333" stroke-width="0.65"/>
<line x1="218.70000000000002" y1="256.4" x2="220.9" y2="256.4" stroke="#333" stroke-width="0.65"/>
<line x1="236.1" y1="256.4" x2="238.29999999999998" y2="256.4" stroke="#333" stroke-width="0.65"/>
<line x1="237.2" y1="255.29999999999998" x2="237.2" y2="257.5" stroke="#333" stroke-width="0.65"/>
<line x1="254.4" y1="256.4" x2="256.6" y2="256.4" stroke="#333" stroke-width="0.65"/>
<line x1="272.2" y1="256.4" x2="274.40000000000003" y2="256.4" stroke="#333" stroke-width="0.65"/>
<line x1="289.29999999999995" y1="256.4" x2="291.5" y2="256.4" stroke="#333" stroke-width="0.65"/>
<line x1="290.4" y1="255.29999999999998" x2="290.4" y2="257.5" stroke="#333" stroke-width="0.65"/>
<text x="306.6" y="251.0" font-size="5" text-anchor="start" font-weight="normal" font-style="normal" fill="#2a2a2a" stroke="#2a2a2a" stroke-width="0.06" stroke-linejoin="round" textLength="13" lengthAdjust="spacingAndGlyphs"><tspan font-style="italic">E coli</tspan></text>
<text x="305.6" y="258" font-size="5" text-anchor="start" font-weight="normal" font-style="normal" fill="#2a2a2a" stroke="#2a2a2a" stroke-width="0.06" stroke-linejoin="round" textLength="41" lengthAdjust="spacingAndGlyphs">100 uM adenosine</text>
<line x1="197.2" y1="263.3" x2="242.7" y2="263.3" stroke="#222" stroke-width="0.8"/>
<line x1="249.8" y1="263.3" x2="295.7" y2="263.3" stroke="#222" stroke-width="0.8"/>
<text x="218.9" y="269.9" font-size="4.4" text-anchor="middle" font-weight="normal" font-style="normal" fill="#2a2a2a" stroke="#2a2a2a" stroke-width="0.06" stroke-linejoin="round" textLength="40.2" lengthAdjust="spacingAndGlyphs">IL-10 Full promoter (WT)</text>
<text x="273.4" y="270.0" font-size="4.4" text-anchor="middle" font-weight="normal" font-style="normal" fill="#2a2a2a" stroke="#2a2a2a" stroke-width="0.06" stroke-linejoin="round" textLength="54.2" lengthAdjust="spacingAndGlyphs">IL-10 Full promoter (C/EBP MUT)</text>
<text x="183.5" y="203.5" font-size="5.3" text-anchor="middle" font-weight="normal" font-style="normal" fill="#2a2a2a" stroke="#2a2a2a" stroke-width="0.06" stroke-linejoin="round" transform="rotate(-90 183.5 203.5)" textLength="64" lengthAdjust="spacingAndGlyphs">absolute luciferase activity</text>
</svg>
</body></html>
